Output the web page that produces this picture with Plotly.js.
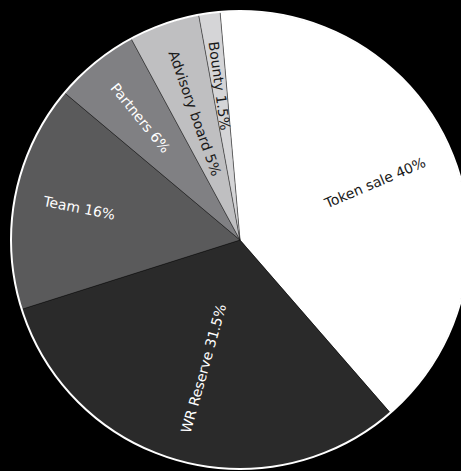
<!DOCTYPE html>
<html>
<head>
<meta charset="utf-8">
<script src="https://cdn.plot.ly/plotly-3.0.1.min.js"></script>
<style>html,body{margin:0;padding:0;background:#000;overflow:hidden;width:461px;height:471px;}</style>
</head>
<body>
<div id="chart"></div>
<script>
const labels = ["Token sale", "WR Reserve", "Team", "Partners", "Advisory board", "Bounty"];
const values = [40, 31.5, 16, 6, 5, 1.5];
const colors = ["#ffffff", "#2a2a2a", "#5a5a5b", "#808083", "#bfbfc1", "#d5d5d7"];
const textColors = ["#1a1a1a", "#ffffff", "#ffffff", "#ffffff", "#1a1a1a", "#1a1a1a"];

const ROTATION = -5;          // degrees, start of first slice from 12 o'clock
const FONT = "DejaVu Sans";
const FONT_SIZE = 14;
const OUTER_FRAC = 0.873;     // labels end at this fraction of the radius

const W = 480, H = 471, M = {l: 11, r: 11, t: 11, b: 2};
const plotW = W - M.l - M.r, plotH = H - M.t - M.b;
const R = Math.min(plotW, plotH) / 2;

const trace = {
  type: "pie",
  labels: labels,
  values: values,
  sort: false,
  direction: "clockwise",
  rotation: ROTATION,
  textinfo: "none",
  marker: {colors: colors, line: {color: "rgba(0,0,0,0.35)", width: 1}},
  hoverinfo: "none",
  showlegend: false
};

// radial labels, positioned from the data
const ctx = document.createElement("canvas").getContext("2d");
ctx.font = FONT_SIZE + "px '" + FONT + "'";
const total = values.reduce((a, b) => a + b, 0);
let acc = 0;
const annotations = labels.map((lab, i) => {
  const start = ROTATION + acc / total * 360;
  acc += values[i];
  const end = ROTATION + acc / total * 360;
  let mid = ((start + end) / 2 + 360) % 360;
  const txt = lab + " " + values[i] + "%";
  const w = ctx.measureText(txt).width;
  const rc = OUTER_FRAC * R - w / 2;
  const rad = mid * Math.PI / 180;
  const dx = rc * Math.sin(rad), dy = -rc * Math.cos(rad);
  const angle = mid < 180 ? mid - 90 : mid - 270;
  return {
    xref: "paper", yref: "paper",
    x: 0.5 + dx / plotW, y: 0.5 - dy / plotH,
    text: txt, showarrow: false, textangle: angle,
    xanchor: "center", yanchor: "middle",
    font: {family: FONT, size: FONT_SIZE, color: textColors[i]}
  };
});

const layout = {
  width: W,
  height: H,
  margin: M,
  paper_bgcolor: "#000",
  plot_bgcolor: "#000",
  showlegend: false,
  annotations: annotations,
  shapes: [{type: "circle", xref: "paper", yref: "paper", x0: 0, x1: 1, y0: 0, y1: 1,
            line: {color: "#ffffff", width: 2}}]
};

Plotly.newPlot("chart", [trace], layout, {displayModeBar: false, staticPlot: true});
</script>
</body>
</html>
